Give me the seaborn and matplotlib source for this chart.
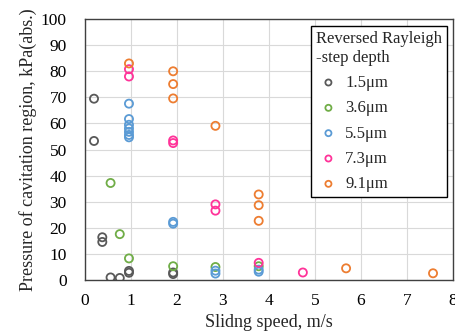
import numpy as np
import matplotlib.pyplot as plt
import seaborn as sns
import pandas as pd

# Data
depths = ['1.5μm', '3.6μm', '5.5μm', '7.3μm', '9.1μm']
colors = ['#595959', '#70AD47', '#5B9BD5', '#FF3399', '#ED7D31']

speed_15 = [0.2, 0.2, 0.38, 0.38, 0.56, 0.76, 0.96, 0.96, 1.92, 1.92]
press_15 = [69.5, 53.3, 16.4, 14.6, 1.0, 0.8, 3.5, 2.8, 2.9, 2.3]

speed_36 = [0.56, 0.76, 0.96, 1.92, 2.84, 3.78]
press_36 = [37.2, 17.6, 8.3, 5.3, 5.0, 5.3]

speed_55 = [0.96, 0.96, 0.96, 0.96, 0.96, 0.96, 0.96, 1.92, 1.92, 2.84, 2.84, 3.78, 3.78]
press_55 = [67.6, 61.7, 59.5, 58.1, 56.8, 55.6, 54.7, 22.3, 21.6, 3.6, 2.5, 4.0, 3.2]

speed_73 = [0.96, 0.96, 1.92, 1.92, 2.84, 2.84, 3.78, 4.74]
press_73 = [80.8, 78.0, 53.5, 52.5, 29.0, 26.6, 6.6, 2.9]

speed_91 = [0.96, 1.92, 1.92, 1.92, 2.84, 3.78, 3.78, 3.78, 5.68, 7.57]
press_91 = [83.0, 80.0, 75.1, 69.6, 59.1, 32.8, 28.7, 22.7, 4.5, 2.6]

frames = []
for name, xs, ys in zip(depths,
                        [speed_15, speed_36, speed_55, speed_73, speed_91],
                        [press_15, press_36, press_55, press_73, press_91]):
    frames.append(pd.DataFrame({'speed': xs, 'pressure': ys, 'depth': name}))
data = pd.concat(frames, ignore_index=True)

sns.set_style('whitegrid')
plt.rcParams['font.family'] = ['Liberation Serif', 'DejaVu Serif']

fig = plt.figure(figsize=(4.56, 3.35), dpi=100)
ax = fig.add_axes([0.186, 0.164, 0.807, 0.779])

for name, col in zip(depths, colors):
    sub = data[data['depth'] == name]
    sns.scatterplot(x='speed', y='pressure', data=sub, ax=ax, label=name,
                    marker='o', s=34, facecolors='none', edgecolor=col,
                    linewidth=1.3)

ax.set_xlim(0, 8)
ax.set_ylim(0, 100)
ax.set_xticks(range(0, 9))
ax.set_yticks(range(0, 101, 10))
ax.grid(True, color='#d9d9d9', linewidth=0.8)
for sp in ax.spines.values():
    sp.set_visible(True)
    sp.set_color('#404040')
    sp.set_linewidth(1.0)
ax.tick_params(axis='y', labelsize=12.5, length=0, pad=13, colors='black')
ax.tick_params(axis='x', labelsize=12.5, length=0, pad=9, colors='black')
ax.set_xlabel('Slidng speed, m/s', fontsize=13, labelpad=4)
ax.set_ylabel('Pressure of cavitation region, kPa(abs.)', fontsize=13, labelpad=3)

leg = ax.legend(title='Reversed Rayleigh\n-step depth', loc='upper right',
                fontsize=12, title_fontsize=12, frameon=True, fancybox=False,
                borderpad=0.3, borderaxespad=0, handletextpad=0.25,
                labelspacing=0.56, handlelength=1.5, markerscale=0.75,
                bbox_to_anchor=(0.984, 0.973))
leg._legend_box.align = 'left'
leg.get_frame().set_edgecolor('black')
leg.get_frame().set_linewidth(1.0)
leg.get_frame().set_alpha(1)

fig.savefig('out.png', dpi=100)
